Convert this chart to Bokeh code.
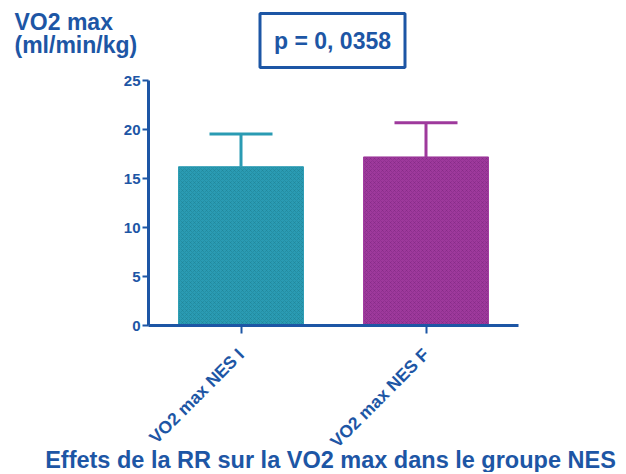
import math
from bokeh.plotting import figure
from bokeh.models import (ColumnDataSource, Range1d, Label, Whisker, TeeHead,
                          FixedTicker)
from bokeh.embed import file_html
from bokeh.resources import INLINE

# ---- data ----
categories = ["VO2 max NES I", "VO2 max NES F"]
means = [16.2, 17.2]
sds = [3.35, 3.5]
bar_colors = ["#2a9bb3", "#9e399c"]
hatch_colors = ["#17707f", "#6e1d70"]
y_ticks = [0, 5, 10, 15, 20, 25]
y_label_lines = ["VO2 max", "(ml/min/kg)"]
p_text = "p = 0, 0358"
bottom_title = "Effets de la RR sur la VO2 max dans le groupe NES"

BLUE = "#1d56a5"
FONT = "Liberation Sans"
W, H = 620, 472

x_pos = [i + 1 for i in range(len(categories))]

p = figure(width=W, height=H, x_range=Range1d(-0.3, -0.3 + W / 185.0),
           y_range=Range1d(-(H - 325) / 9.8, 25 + 80 / 9.8),
           output_backend="svg", toolbar_location=None,
           min_border=0, min_border_left=0, min_border_right=0,
           min_border_top=0, min_border_bottom=0)
p.outline_line_color = None
p.xgrid.visible = False
p.ygrid.visible = False

src = ColumnDataSource(dict(x=x_pos, top=means, color=bar_colors,
                            hcolor=hatch_colors))
p.vbar(x="x", top="top", width=0.675, source=src, fill_color="color",
       line_color="color", hatch_pattern="diagonal_cross", hatch_color="hcolor",
       hatch_alpha=0.3, hatch_scale=4, hatch_weight=1)

for i in range(len(categories)):
    s = ColumnDataSource(dict(base=[x_pos[i]], lower=[means[i]],
                              upper=[means[i] + sds[i]]))
    w = Whisker(base="base", lower="lower", upper="upper", source=s,
                dimension="height", line_color=bar_colors[i], line_width=3,
                upper_head=TeeHead(size=63, line_color=bar_colors[i], line_width=3),
                lower_head=None)
    p.add_layout(w)

# axes
for ax in (p.xaxis[0], p.yaxis[0]):
    ax.axis_line_color = BLUE
    ax.axis_line_width = 3
    ax.major_tick_line_color = BLUE
    ax.major_tick_line_width = 2
    ax.minor_tick_line_color = None
    ax.major_tick_in = 0
    ax.major_label_text_color = BLUE
    ax.major_label_text_font = FONT
    ax.major_label_text_font_style = "bold"

p.yaxis.fixed_location = 0.5
p.yaxis.bounds = (0, 25)
p.yaxis.ticker = FixedTicker(ticks=y_ticks)
p.yaxis.major_tick_out = 6
p.yaxis.major_label_standoff = 2
p.yaxis.major_label_text_font_size = "15px"

p.xaxis.fixed_location = 0
p.xaxis.bounds = (0.5, len(categories) + 0.5)
p.xaxis.ticker = FixedTicker(ticks=x_pos)
p.xaxis.major_label_overrides = {x: c for x, c in zip(x_pos, categories)}
p.xaxis.major_tick_out = 8
p.xaxis.major_label_orientation = math.pi / 4
p.xaxis.major_label_standoff = 18
p.xaxis.major_label_text_font_size = "17.5px"

# texts (data units, inside the frame)
def sx(px):
    return -0.3 + px / 185.0

def sy(py):
    return 25 + 80 / 9.8 - py / 9.8

def lab(x, y, text, size, align, **kw):
    p.add_layout(Label(x=x, y=y, text=text,
                       text_font=FONT, text_font_style="bold", text_font_size=size,
                       text_color=BLUE, text_baseline="middle", text_align=align,
                       **kw))

lab(sx(14), sy(21), y_label_lines[0], "23px", "left")
lab(sx(14), sy(44), y_label_lines[1], "23px", "left")
lab(sx(332), sy(40), p_text, "23px", "center",
    border_line_color=BLUE, border_line_width=3, padding=14)
lab(sx(330), sy(459), bottom_title, "23.5px", "center")

open("out.html", "w").write(file_html(p, INLINE))
